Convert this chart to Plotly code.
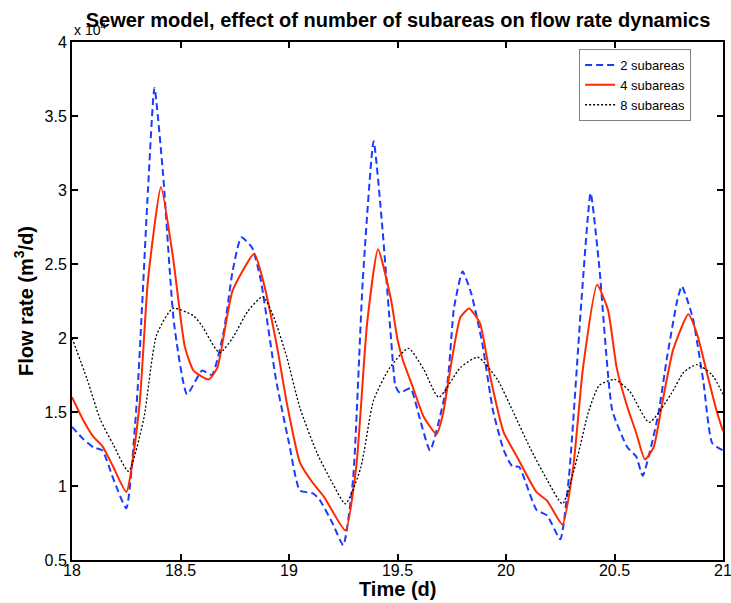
import plotly.graph_objects as go

# Time (d) and flow rate (x 10^4 m3/d)
t2 = [18.0, 18.05, 18.1, 18.14, 18.19, 18.25, 18.3, 18.35, 18.38, 18.42, 18.47, 18.53, 18.6, 18.645, 18.7, 18.74, 18.78, 18.83, 18.87, 18.94, 19.0, 19.05, 19.11, 19.14, 19.2, 19.25, 19.295, 19.34, 19.39, 19.43, 19.47, 19.49, 19.51, 19.56, 19.6, 19.65, 19.73, 19.76, 19.8, 19.84, 19.89, 19.94, 19.99, 20.03, 20.06, 20.14, 20.19, 20.25, 20.29, 20.35, 20.39, 20.43, 20.49, 20.56, 20.6, 20.63, 20.7, 20.74, 20.79, 20.81, 20.86, 20.91, 20.95, 21.0]
q2 = [1.40, 1.32, 1.26, 1.24, 1.05, 0.85, 1.60, 3.00, 3.69, 3.10, 2.10, 1.62, 1.78, 1.75, 2.05, 2.45, 2.68, 2.61, 2.39, 1.72, 1.29, 0.97, 0.95, 0.91, 0.75, 0.60, 1.04, 2.39, 3.33, 2.75, 2.00, 1.68, 1.63, 1.66, 1.47, 1.24, 1.70, 2.20, 2.45, 2.30, 1.97, 1.51, 1.24, 1.13, 1.13, 0.84, 0.80, 0.64, 1.06, 2.30, 2.98, 2.48, 1.51, 1.26, 1.20, 1.07, 1.47, 1.85, 2.26, 2.35, 2.14, 1.70, 1.29, 1.24]

t4 = [18.0, 18.05, 18.1, 18.14, 18.19, 18.25, 18.31, 18.35, 18.41, 18.465, 18.52, 18.56, 18.63, 18.67, 18.74, 18.84, 18.88, 18.945, 18.99, 19.05, 19.11, 19.16, 19.26, 19.31, 19.36, 19.41, 19.47, 19.5, 19.525, 19.57, 19.62, 19.68, 19.71, 19.75, 19.79, 19.83, 19.88, 19.93, 19.99, 20.05, 20.14, 20.19, 20.26, 20.31, 20.355, 20.42, 20.47, 20.51, 20.56, 20.6, 20.64, 20.68, 20.72, 20.77, 20.84, 20.88, 20.93, 20.97, 21.0]
q4 = [1.60, 1.45, 1.33, 1.27, 1.13, 0.96, 1.53, 2.39, 3.02, 2.55, 1.94, 1.78, 1.72, 1.80, 2.32, 2.57, 2.39, 1.94, 1.56, 1.16, 1.02, 0.93, 0.70, 1.13, 2.10, 2.60, 2.26, 1.99, 1.85, 1.67, 1.47, 1.35, 1.49, 1.85, 2.14, 2.20, 2.10, 1.72, 1.36, 1.20, 0.96, 0.90, 0.74, 1.13, 1.80, 2.36, 2.19, 1.80, 1.53, 1.36, 1.18, 1.26, 1.56, 1.92, 2.16, 2.03, 1.74, 1.51, 1.37]

t8 = [18.0, 18.07, 18.13, 18.19, 18.26, 18.33, 18.39, 18.465, 18.56, 18.6, 18.68, 18.74, 18.81, 18.88, 18.93, 18.99, 19.05, 19.13, 19.2, 19.26, 19.33, 19.39, 19.465, 19.55, 19.62, 19.69, 19.79, 19.87, 19.96, 20.03, 20.11, 20.19, 20.26, 20.33, 20.38, 20.43, 20.5, 20.57, 20.66, 20.76, 20.82, 20.88, 20.95, 21.0]
q8 = [2.00, 1.72, 1.45, 1.28, 1.10, 1.45, 2.02, 2.20, 2.15, 2.08, 1.90, 2.00, 2.18, 2.28, 2.14, 1.87, 1.53, 1.22, 1.02, 0.88, 1.12, 1.58, 1.80, 1.93, 1.79, 1.60, 1.80, 1.87, 1.72, 1.51, 1.26, 1.04, 0.88, 1.20, 1.50, 1.68, 1.72, 1.64, 1.43, 1.62, 1.77, 1.82, 1.75, 1.62]

names = ["2 subareas", "4 subareas", "8 subareas"]

x_ticks = [18, 18.5, 19, 19.5, 20, 20.5, 21]
x_ticktext = ["18", "18.5", "19", "19.5", "20", "20.5", "21"]
y_ticks = [0.5, 1, 1.5, 2, 2.5, 3, 3.5, 4]
y_ticktext = ["0.5", "1", "1.5", "2", "2.5", "3", "3.5", "4"]

font_family = "Liberation Sans, Arial, sans-serif"

fig = go.Figure()
fig.add_trace(go.Scatter(x=t2, y=q2, mode="lines", name=names[0],
                         line=dict(color="#1a3cff", width=2, dash="7px,4px", shape="spline", smoothing=0.5)))
fig.add_trace(go.Scatter(x=t4, y=q4, mode="lines", name=names[1],
                         line=dict(color="#ff2a00", width=2, shape="spline", smoothing=0.5)))
fig.add_trace(go.Scatter(x=t8, y=q8, mode="lines", name=names[2],
                         line=dict(color="#000000", width=1.3, dash="2px,2px", shape="spline", smoothing=0.6)))

axis_common = dict(showline=True, linecolor="black", linewidth=2, mirror="ticks",
                   ticks="inside", ticklen=6, tickwidth=2, tickcolor="black",
                   showgrid=False, zeroline=False, automargin=False,
                   ticklabeloverflow="allow",
                   tickfont=dict(family=font_family, size=16, color="black"))

fig.update_xaxes(range=[18, 21], tickvals=x_ticks, ticktext=x_ticktext,
                 ticklabelstandoff=-5, **axis_common)
fig.update_yaxes(range=[0.5, 4], tickvals=y_ticks, ticktext=y_ticktext,
                 title=dict(text="<b>Flow rate (m<sup>3</sup>/d)</b>", font=dict(family=font_family, size=20, color="black"), standoff=6),
                 **axis_common)

# x-axis title
fig.add_annotation(text="<b>Time (d)</b>", xref="paper", yref="paper", x=0.5, y=-0.056,
                   xanchor="center", yanchor="middle", showarrow=False,
                   font=dict(family=font_family, size=20, color="black"))

# exponent label of the y axis
fig.add_annotation(text="x 10<sup>4</sup>", xref="paper", yref="paper", x=0.0, y=1.0,
                   xanchor="left", yanchor="bottom", showarrow=False, yshift=2,
                   font=dict(family=font_family, size=14, color="black"))

fig.update_layout(
    width=731, height=603,
    margin=dict(l=72, r=8, t=42, b=43, autoexpand=False),
    paper_bgcolor="white", plot_bgcolor="white",
    title=dict(text="<b>Sewer model, effect of number of subareas on flow rate dynamics</b>",
               x=0.5445, xanchor="center", y=0.967, yanchor="middle",
               font=dict(family=font_family, size=20, color="black")),
    legend=dict(x=0.779, y=0.9865, xanchor="left", yanchor="top",
                bgcolor="white", bordercolor="#808080", borderwidth=1,
                font=dict(family=font_family, size=13, color="black"),
                tracegroupgap=0, itemwidth=30),
    showlegend=True,
)

fig.write_html("out.html")
